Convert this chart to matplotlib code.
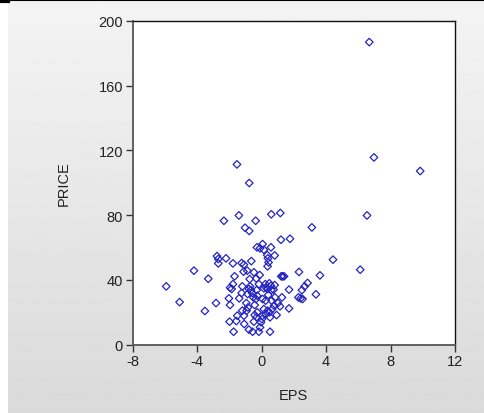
import numpy as np
import matplotlib
matplotlib.use("Agg")
import matplotlib.pyplot as plt

plt.rcParams["font.family"] = ["Liberation Sans", "DejaVu Sans"]
plt.rcParams["axes.unicode_minus"] = False

# earnings per share vs. share price, one point per firm
EPS = [
    6.68, 6.97, 9.84, -1.53, -0.77, 6.54, -1.41, 0.60, 1.16, -2.34,
    -0.37, -1.03, -0.77, 3.12, 1.20, 1.76, 0.06, -0.29, -0.10, 0.14,
    0.58, 0.81, 0.35, 0.39, 0.43, 0.37, -2.77, -2.69, -2.69, -2.21,
    -1.78, -1.24, -1.10, -0.64, 4.43, 6.12, -4.20, -3.31, -1.68, -1.12,
    -0.89, -0.48, -0.12, -0.33, 1.30, 1.39, 2.32, 3.62, -5.92, -5.09,
    -3.52, -2.83, -1.96, -1.78, -1.86, -2.03, -1.96, -1.99, -1.74, -1.57,
    -1.51, -1.39, -1.20, -1.10, -1.08, -0.93, -0.87, -0.79, -0.72, -0.66,
    -0.79, -0.56, -0.48, -0.43, -0.43, -0.35, -0.31, -0.17, -0.10, -0.04,
    0.02, 0.06, 0.14, 0.23, 0.29, 0.37, 0.48, 0.58, 0.60, 0.74,
    0.81, 0.06, 0.25, 0.62, 0.14, 0.27, 0.37, 0.52, 0.48, 0.66,
    0.52, 0.77, 0.93, 1.01, 1.14, 1.26, 1.70, 1.70, 2.28, 2.42,
    2.54, 2.50, 2.67, 2.85, 3.37, 1.22, -0.95, -0.85, -0.31, -0.27,
    -0.74, -1.24, -1.20, -0.27, -0.52, -0.58, -0.17, 0.41, 0.83,
]
PRICE = [
    186.8, 115.6, 107.2, 111.3, 99.8, 79.8, 79.8, 80.5, 81.3, 76.5,
    76.5, 72.2, 70.2, 72.4, 64.8, 65.4, 62.1, 60.1, 59.5, 58.6,
    60.1, 55.1, 55.3, 53.3, 50.8, 48.4, 54.7, 52.9, 50.2, 53.3,
    50.2, 50.4, 49.4, 51.6, 52.5, 46.3, 45.7, 40.7, 42.2, 45.1,
    45.7, 44.7, 43.0, 40.9, 42.2, 42.2, 44.9, 42.8, 36.0, 26.3,
    20.8, 25.7, 35.2, 37.4, 34.4, 28.6, 24.5, 14.2, 8.0, 14.6,
    17.9, 28.6, 21.0, 17.9, 12.8, 21.0, 31.3, 34.4, 36.0, 33.7,
    9.3, 8.0, 14.2, 18.3, 24.5, 28.2, 33.7, 8.0, 10.7, 13.8,
    15.8, 17.9, 34.8, 37.4, 35.2, 34.4, 37.9, 36.4, 33.7, 34.0,
    36.8, 28.2, 27.2, 27.2, 22.0, 18.9, 21.0, 16.9, 20.0, 22.0,
    8.0, 24.1, 18.3, 25.7, 23.7, 29.2, 34.0, 22.4, 29.2, 28.6,
    28.2, 33.7, 36.0, 38.1, 31.1, 42.2, 25.7, 23.0, 16.9, 20.0,
    40.5, 31.9, 36.0, 30.2, 29.2, 31.9, 37.4, 30.7, 29.2,
]

X_TICKS = [-8, -4, 0, 4, 8, 12]
Y_TICKS = [0, 40, 80, 120, 160, 200]

W, H = 485, 414
fig = plt.figure(figsize=(W / 100, H / 100), dpi=100)
fig.patch.set_facecolor("white")

# grey gradient panel behind the plot, thin rule along the top
bg = fig.add_axes([8 / W, 0, 1 - 8 / W, 1 - 2 / H], zorder=0)
grad = np.linspace(0.955, 0.855, 256).reshape(-1, 1)
bg.imshow(grad, cmap="gray", vmin=0, vmax=1, aspect="auto",
          extent=[0, 1, 0, 1], interpolation="bilinear")
bg.set_axis_off()
fig.add_artist(plt.Line2D([0, 1], [1 - 1 / H, 1 - 1 / H], color="black", lw=1.5))
fig.add_artist(plt.Line2D([0, 8 / W], [1 - 1.5 / H, 1 - 1.5 / H], color="black", lw=3))

ax = fig.add_axes([132.7 / W, 1 - 345.7 / H, (455 - 132.7) / W, (345.7 - 21.7) / H], zorder=1)
ax.set_facecolor("white")
ax.scatter(EPS, PRICE, marker="D", s=15, facecolors="none",
           edgecolors="#2424c0", linewidths=0.9)

ax.set_xlim(-8, 12)
ax.set_ylim(0, 200)
ax.set_xticks(X_TICKS)
ax.set_yticks(Y_TICKS)
ax.tick_params(direction="out", length=5, width=1, colors="#333333",
               labelsize=10.5, labelcolor="#222222", pad=2)
for side in ["left", "bottom"]:
    ax.spines[side].set_color("#555555")
    ax.spines[side].set_linewidth(1.3)
for side in ["top", "right"]:
    ax.spines[side].set_color("#111111")
    ax.spines[side].set_linewidth(1.0)

ax.set_xlabel("EPS", fontsize=10.5, color="#222222", labelpad=14)
ax.set_ylabel("PRICE", fontsize=10.5, color="#222222", labelpad=20)

fig.savefig("out.png", dpi=100)
